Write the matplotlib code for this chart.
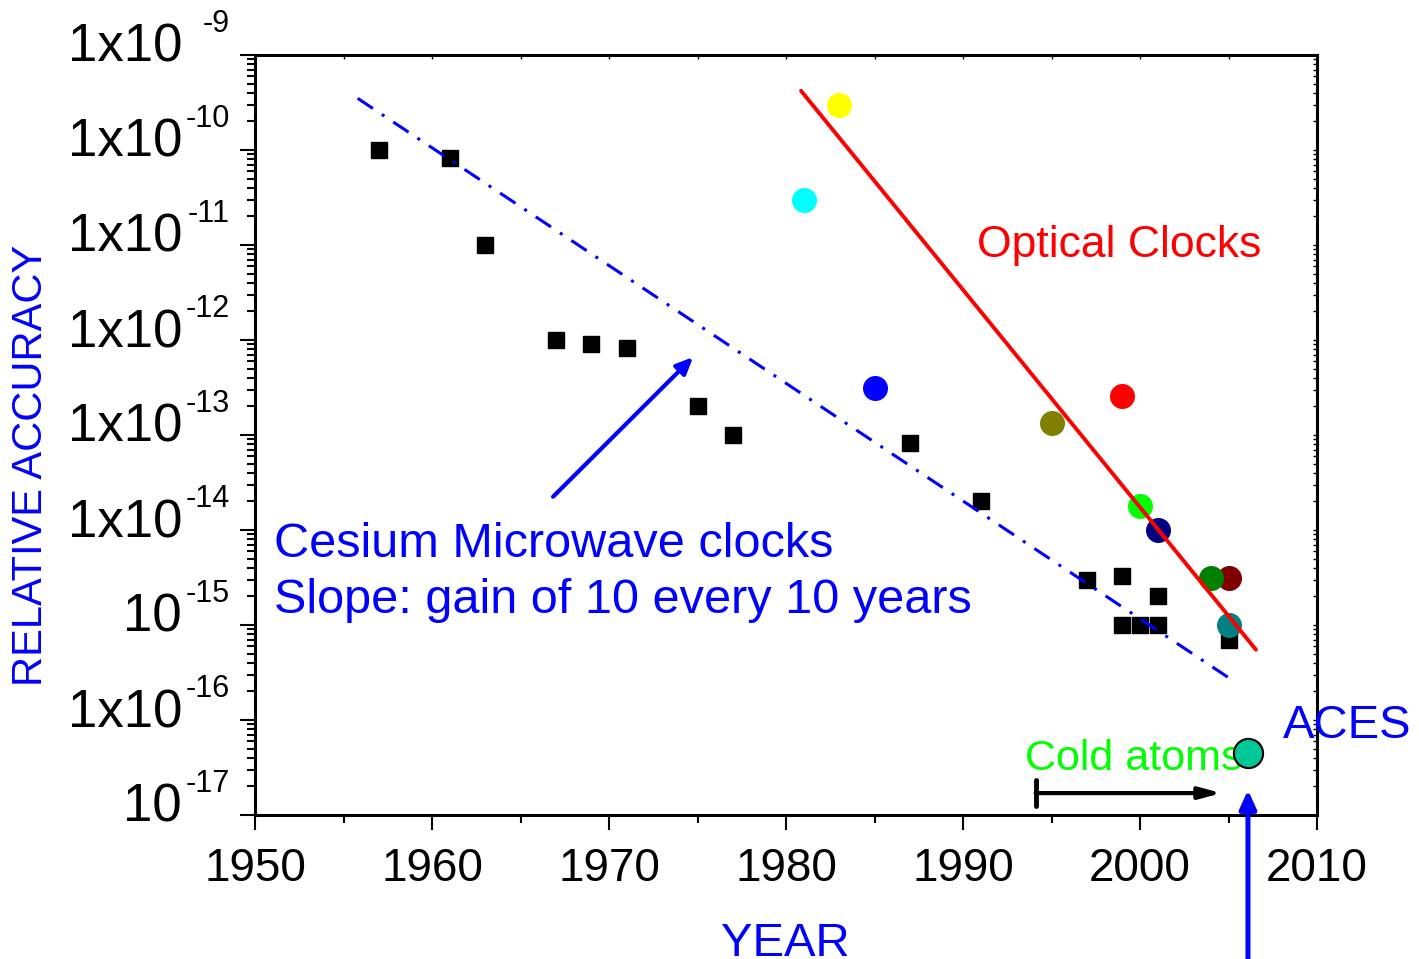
import numpy as np
import matplotlib.pyplot as plt
from matplotlib.ticker import LogLocator, NullFormatter, MultipleLocator

plt.rcParams['font.family'] = ['Liberation Sans', 'DejaVu Sans']

# cesium microwave clocks
cs_year = [1957, 1961, 1963, 1967, 1969, 1971, 1975, 1977, 1987, 1991,
           1997, 1999, 1999, 2000, 2001, 2001, 2005]
cs_acc = [1e-10, 8.2e-11, 1e-11, 1e-12, 9e-13, 8.3e-13, 2e-13, 1e-13, 8.3e-14, 2e-14,
          3e-15, 3.3e-15, 1e-15, 1e-15, 1e-15, 2e-15, 6.9e-16]

# optical clocks
opt_year = [1981, 1983, 1985, 1995, 1999, 2000, 2001, 2005, 2004, 2005]
opt_acc = [3e-11, 3e-10, 3.1e-13, 1.34e-13, 2.6e-13, 1.8e-14, 1e-14, 3.1e-15, 3.1e-15, 1e-15]
opt_color = ['#00FFFF', '#FFFF00', '#0000FF', '#808000', '#FF0000',
             '#00FF00', '#000080', '#800000', '#008000', '#008080']

aces_year = 2006.1
aces_acc = 4.5e-17

# trend lines
cs_fit_year = [1955.8, 2005.25]
cs_fit_acc = [3.5e-10, 2.6e-16]
opt_fit_year = [1980.85, 2006.55]
opt_fit_acc = [4.2e-10, 5.5e-16]

# y tick labels
y_exp = [-9, -10, -11, -12, -13, -14, -15, -16, -17]
y_base = ['1x10', '1x10', '1x10', '1x10', '1x10', '1x10', '10', '1x10', '10']
x_ticks = [1950, 1960, 1970, 1980, 1990, 2000, 2010]

W, H = 1419, 959
fig = plt.figure(figsize=(W / 100, H / 100), dpi=100)
ax = fig.add_axes([255 / W, 1 - 815 / H, (1317 - 255) / W, (815 - 55) / H])

ax.set_yscale('log')
ax.set_xlim(1950, 2010)
ax.set_ylim(1e-17, 1e-9)

ax.plot(cs_year, cs_acc, 's', color='black', markersize=11, zorder=3)
for yr, acc, c in zip(opt_year, opt_acc, opt_color):
    ax.plot(yr, acc, 'o', color=c, markersize=18, markeredgewidth=0, zorder=4)
ax.plot(aces_year, aces_acc, 'o', color='#00C896', markersize=21,
        markeredgecolor='black', markeredgewidth=1.5, zorder=6, clip_on=False)

ax.plot(cs_fit_year, cs_fit_acc, color='#0000FF', lw=2.2, dashes=(6, 3.5, 1, 3.5), zorder=5)
ax.plot(opt_fit_year, opt_fit_acc, color='#FF0000', lw=2.8, solid_capstyle='round', zorder=5)

# ticks
ax.set_xticks(x_ticks)
ax.xaxis.set_minor_locator(MultipleLocator(5))
ax.set_yticks([10.0 ** e for e in y_exp])
ax.set_yticklabels([''] * len(y_exp))
ax.yaxis.set_minor_locator(LogLocator(base=10, subs=np.arange(2, 10), numticks=100))
ax.yaxis.set_minor_formatter(NullFormatter())
ax.tick_params(which='major', direction='out', length=11, width=1.5, labelsize=33, pad=12)
ax.tick_params(which='minor', direction='out', length=6, width=1.5)
for s in ax.spines.values():
    s.set_linewidth(2.2)

top = ax.secondary_xaxis('top')
top.xaxis.set_major_locator(MultipleLocator(5))
top.tick_params(direction='in', length=3, width=1, labeltop=False)
right = ax.secondary_yaxis('right')
right.yaxis.set_major_locator(LogLocator(base=10, subs=np.arange(1, 10), numticks=100))
right.yaxis.set_minor_locator(LogLocator(base=10, subs=np.arange(1, 10), numticks=100))
right.tick_params(which='both', direction='in', length=3, width=1, labelright=False)

for e, b in zip(y_exp, y_base):
    ax.annotate(b, xy=(0, 10.0 ** e), xycoords=('axes fraction', 'data'),
                xytext=(-73, -7), textcoords='offset pixels',
                ha='right', va='baseline', fontsize=38)
    ax.annotate('-%d' % -e, xy=(0, 10.0 ** e), xycoords=('axes fraction', 'data'),
                xytext=(-25, 23), textcoords='offset pixels',
                ha='right', va='baseline', fontsize=22)

fig.text(785 / W, 1 - 956 / H, 'YEAR', color='#0000FF', fontsize=34,
         ha='center', va='baseline')
fig.text(31 / W, 1 - 465 / H, 'RELATIVE ACCURACY', color='#0000FF', fontsize=30,
         rotation=90, ha='center', va='center')

# annotations
ax.text(1990.8, 7.5e-12, 'Optical Clocks', color='#FF0000', fontsize=32, va='baseline')
ax.text(1951.1, 5.2e-15, 'Cesium Microwave clocks', color='#0000FF', fontsize=35, va='baseline')
ax.text(1951.1, 1.33e-15, 'Slope: gain of 10 every 10 years', color='#0000FF',
        fontsize=35, va='baseline')
ax.text(1993.5, 2.98e-17, 'Cold atoms', color='#00FF00', fontsize=31, va='baseline', zorder=2)
ax.text(2008.08, 6.4e-17, 'ACES', color='#0000FF', fontsize=34, va='baseline', zorder=7)

ax.annotate('', xy=(1974.75, 6.6e-13), xytext=(1966.84, 2.24e-14),
            arrowprops=dict(arrowstyle='-|>,head_length=1.0,head_width=0.45',
                            color='#0000FF', lw=3, shrinkA=0, shrinkB=0))
ax.annotate('', xy=(2004.6, 1.7e-17), xytext=(1994.1, 1.7e-17),
            arrowprops=dict(arrowstyle='-|>,head_length=1.3,head_width=0.35',
                            color='black', lw=3, shrinkA=0, shrinkB=0))
ax.plot([1994.1, 1994.1], [1.25e-17, 2.35e-17], color='black', lw=3.5,
        solid_capstyle='round')
ax.annotate('', xy=(aces_year, 1.83e-17), xytext=(aces_year, 2e-19),
            arrowprops=dict(arrowstyle='-|>,head_length=1.1,head_width=0.5',
                            color='#0000FF', lw=3.6, shrinkA=0, shrinkB=0),
            annotation_clip=False)

fig.savefig('out.png', dpi=100)
